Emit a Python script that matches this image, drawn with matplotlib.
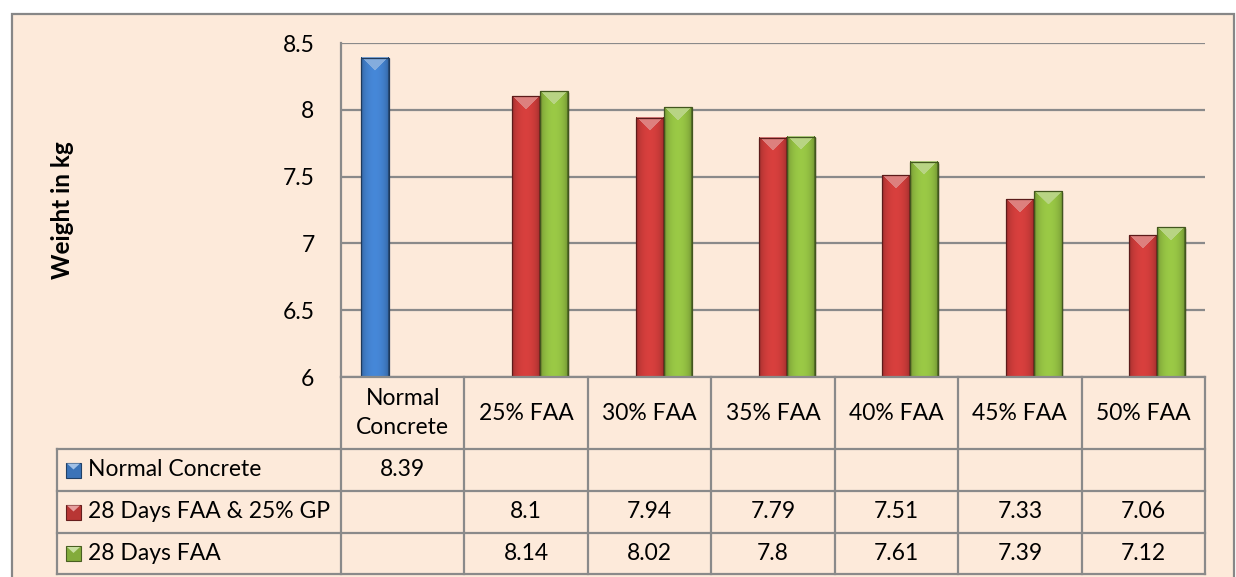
import numpy as np
import matplotlib
matplotlib.use("Agg")
import matplotlib.pyplot as plt
from matplotlib.colors import to_rgb
from matplotlib.patches import Rectangle, Polygon
from matplotlib.lines import Line2D

# ---------------- data ----------------
categories = ["Normal\nConcrete", "25% FAA", "30% FAA", "35% FAA", "40% FAA", "45% FAA", "50% FAA"]
series_names = ["Normal Concrete", "28 Days FAA & 25% GP", "28 Days FAA"]
normal_concrete = [8.39, None, None, None, None, None, None]
faa_gp = [None, 8.1, 7.94, 7.79, 7.51, 7.33, 7.06]
faa = [None, 8.14, 8.02, 7.8, 7.61, 7.39, 7.12]
y_ticks = [6, 6.5, 7, 7.5, 8, 8.5]
y_tick_labels = ["6", "6.5", "7", "7.5", "8", "8.5"]
y_label = "Weight in kg"
series_values = [normal_concrete, faa_gp, faa]
series_colors = ["#4280CC", "#CC3C3A", "#92BE42"]

# ---------------- style ----------------
W, H = 1236, 577
BG = "#FDEADA"
GRID = "#8A8A8A"
FONT = "Lato"
FS = 16.5
plt.rcParams["font.family"] = [FONT, "DejaVu Sans"]

fig = plt.figure(figsize=(W / 100, H / 100), dpi=100)
fig.patch.set_facecolor("white")

def fx(x):
    return x / W

def fy(y):
    return 1 - y / H

# outer chart frame
fig.patches.append(Rectangle((fx(12), fy(590)), fx(1234) - fx(12), fy(13.5) - fy(590),
                             transform=fig.transFigure, facecolor=BG, edgecolor="#878787",
                             linewidth=1.6, zorder=-10))

# plot area
px0, px1, py0, py1 = 341, 1205, 43, 377
ax = fig.add_axes([fx(px0), fy(py1), fx(px1) - fx(px0), fy(py0) - fy(py1)])
ax.set_facecolor("none")
n = len(categories)
ax.set_xlim(-0.5, n - 0.5)
ax.set_ylim(y_ticks[0], y_ticks[-1])
ax.set_yticks(y_ticks)
ax.set_yticklabels(y_tick_labels, fontsize=FS)
ax.tick_params(axis="y", length=0, pad=19)
ax.set_xticks([])
for s in ["top", "right", "bottom"]:
    ax.spines[s].set_visible(False)
ax.spines["left"].set_color(GRID)
ax.spines["left"].set_linewidth(1.6)
ax.yaxis.grid(True, color=GRID, linewidth=1.6)
ax.set_axisbelow(True)

fig.text(fx(62), fy(210), y_label, rotation=90, fontsize=17.5, fontweight="bold",
         ha="center", va="center")

# ---------------- bars ----------------
bw = 28 / ((px1 - px0) / n)
x = np.arange(n)
offsets = [-bw, 0, bw]


def bevel_image(color, wpx, hpx):
    base = np.array(to_rgb(color))
    wpx = max(int(round(wpx)), 2)
    hpx = max(int(round(hpx)), 2)
    c = np.linspace(0, 1, wpx)
    shade = 0.74 + 0.32 * np.sin(np.pi * c) ** 0.5
    img = np.ones((hpx, wpx, 3)) * base[None, None, :] * shade[None, :, None]
    rows = np.arange(hpx)[:, None]
    cols = np.arange(wpx)[None, :]
    dist = np.minimum(cols, wpx - 1 - cols)
    tri = rows < dist * 0.95
    top = np.broadcast_to(tri & (rows < 14), img.shape[:2])
    light = base * 0.65 + 0.35
    img[top] = light
    edge = np.broadcast_to((cols < 1) | (cols > wpx - 2), img.shape[:2])
    img[edge] = base * 0.6
    return np.clip(img, 0, 1)


for vals, off, col, name in zip(series_values, offsets, series_colors, series_names):
    h = np.array([np.nan if v is None else v for v in vals], dtype=float)
    bars = ax.bar(x + off, h, width=bw, color=col, edgecolor="none", label=name, zorder=2)
    for b, v in zip(bars, h):
        if np.isnan(v):
            continue
        x0b, x1b = b.get_x(), b.get_x() + b.get_width()
        ylo = ax.get_ylim()[0]
        p0 = ax.transData.transform((x0b, ylo))
        p1 = ax.transData.transform((x1b, v))
        img = bevel_image(col, p1[0] - p0[0], p1[1] - p0[1])
        ax.add_patch(Rectangle((x0b + 0.014, ylo), b.get_width(), v - ylo - 0.012,
                               facecolor="#000000", alpha=0.12, edgecolor="none", zorder=2.5))
        ax.imshow(img, extent=(x0b, x1b, ylo, v), aspect="auto", interpolation="bilinear",
                  zorder=3)
        ax.add_patch(Rectangle((x0b, ylo), b.get_width(), v - ylo, facecolor="none",
                               edgecolor=np.array(to_rgb(col)) * 0.45, linewidth=0.9, zorder=3.5))
        b.set_visible(False)

ax.set_xlim(-0.5, n - 0.5)
ax.set_ylim(y_ticks[0], y_ticks[-1])

# ---------------- data table ----------------
col_edges = [ax.transData.transform((i - 0.5, 6))[0] for i in range(n + 1)]
row_edges = [377, 449, 491, 533, 574]
label_left = 57
lw = 1.6


def hline(y, xa, xb):
    fig.add_artist(Line2D([xa / W, xb / W], [fy(y), fy(y)], color=GRID, linewidth=lw,
                          transform=fig.transFigure, zorder=5))


def vline(xp, ya, yb):
    fig.add_artist(Line2D([xp / W, xp / W], [fy(ya), fy(yb)], color=GRID, linewidth=lw,
                          transform=fig.transFigure, zorder=5))


hline(row_edges[0], col_edges[0], col_edges[-1])
for y in row_edges[1:]:
    hline(y, label_left, col_edges[-1])
for e in col_edges:
    vline(e, row_edges[0], row_edges[-1])
vline(label_left, row_edges[1], row_edges[-1])

# header
for i, cat in enumerate(categories):
    cx = (col_edges[i] + col_edges[i + 1]) / 2
    cy = (row_edges[0] + row_edges[1]) / 2
    fig.text(fx(cx), fy(cy), cat, ha="center", va="center", fontsize=FS, linespacing=1.45)

# rows
for r, (name, vals, col) in enumerate(zip(series_names, series_values, series_colors)):
    cy = (row_edges[r + 1] + row_edges[r + 2]) / 2
    base = np.array(to_rgb(col))
    kx0, ks = 66, 15
    fig.patches.append(Rectangle((fx(kx0), fy(cy + ks / 2)), ks / W, ks / H,
                                 transform=fig.transFigure, facecolor=base * 0.9,
                                 edgecolor=base * 0.5, linewidth=0.8, zorder=6))
    fig.patches.append(Polygon([(fx(kx0 + 1), fy(cy - ks / 2 + 1)), (fx(kx0 + ks - 1), fy(cy - ks / 2 + 1)),
                                (fx(kx0 + ks / 2), fy(cy - ks / 2 + 7))], closed=True,
                               transform=fig.transFigure, facecolor=base * 0.5 + 0.5,
                               edgecolor="none", zorder=7))
    fig.text(fx(88), fy(cy), name, ha="left", va="center", fontsize=FS)
    for i, v in enumerate(vals):
        if v is None:
            continue
        cx = (col_edges[i] + col_edges[i + 1]) / 2
        fig.text(fx(cx), fy(cy), str(v), ha="center", va="center", fontsize=FS)

fig.savefig("out.png", dpi=100, facecolor=fig.get_facecolor())
